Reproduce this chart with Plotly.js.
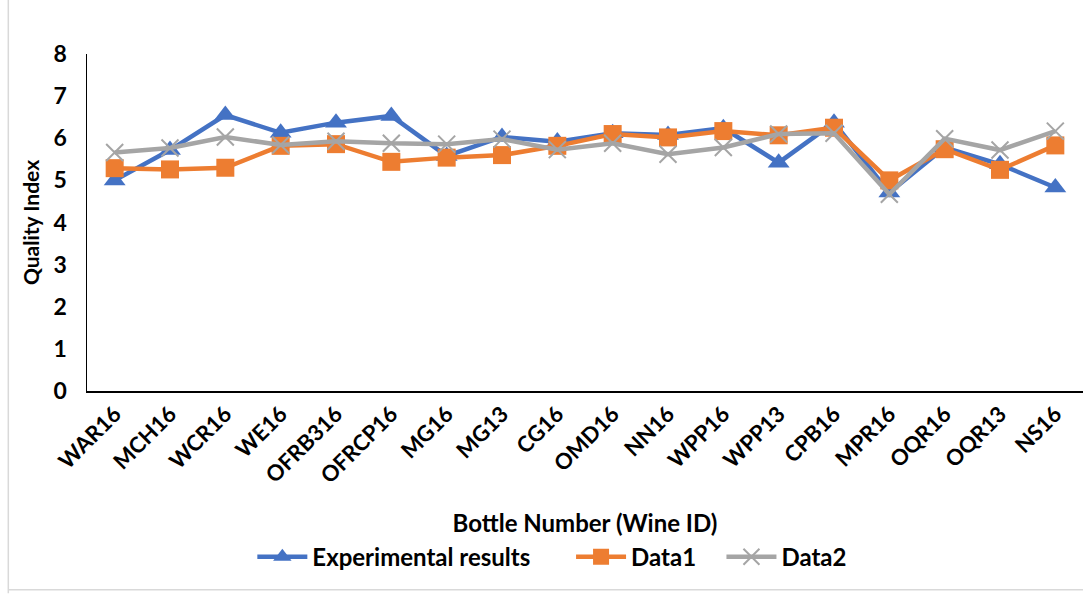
<!DOCTYPE html>
<html>
<head>
<meta charset="utf-8">
<script src="https://cdn.plot.ly/plotly-3.0.1.min.js"></script>
<style>
html,body{margin:0;padding:0;background:#fff;}
#chart{width:1085px;height:594px;}
</style>
</head>
<body>
<div id="chart"></div>
<script>
const categories = ["WAR16","MCH16","WCR16","WE16","OFRB316","OFRCP16","MG16","MG13","CG16","OMD16","NN16","WPP16","WPP13","CPB16","MPR16","OQR16","OQR13","NS16"];
const experimental = [5.0, 5.72, 6.55, 6.13, 6.37, 6.53, 5.58, 6.03, 5.92, 6.12, 6.08, 6.24, 5.42, 6.37, 4.71, 5.78, 5.38, 4.83];
const data1 = [5.29, 5.26, 5.30, 5.82, 5.86, 5.44, 5.54, 5.60, 5.82, 6.10, 6.02, 6.17, 6.07, 6.25, 5.0, 5.74, 5.25, 5.83];
const data2 = [5.66, 5.77, 6.03, 5.84, 5.93, 5.88, 5.86, 5.98, 5.73, 5.88, 5.62, 5.78, 6.10, 6.12, 4.67, 5.99, 5.72, 6.17];
const yTicks = [0,1,2,3,4,5,6,7,8];

const FONT = "Lato, 'Open Sans', sans-serif";
const legendFont = {family: FONT, size: 24, color: "#000", weight: "bold"};

const traces = [
  {x: categories, y: experimental, name: "Experimental results", type: "scatter", mode: "lines+markers", legend: "legend",
   line: {color: "#4472C4", width: 4.5}, marker: {symbol: "triangle-up", size: 19, color: "#4472C4"}},
  {x: categories, y: data1, name: "Data1", type: "scatter", mode: "lines+markers", legend: "legend2",
   line: {color: "#ED7D31", width: 4.5}, marker: {symbol: "square", size: 18, color: "#ED7D31"}},
  {x: categories, y: data2, name: "Data2", type: "scatter", mode: "lines+markers", legend: "legend3",
   line: {color: "#A5A5A5", width: 4.5}, marker: {symbol: "x-thin", size: 17, color: "#A5A5A5", line: {color: "#A5A5A5", width: 2}}}
];

function leg(x) {
  return {orientation: "h", x: x, xanchor: "left", y: -0.493, yanchor: "middle", font: legendFont, itemwidth: 50};
}

const layout = {
  width: 1085, height: 594,
  margin: {l: 87, r: 2, t: 54, b: 203},
  paper_bgcolor: "#fff", plot_bgcolor: "#fff",
  font: {family: FONT, color: "#000", size: 17},
  showlegend: true,
  legend: leg(0.166),
  legend2: leg(0.486),
  legend3: leg(0.637),
  xaxis: {
    type: "category", range: [-0.5, 17.5], showgrid: false, zeroline: false,
    showline: true, linecolor: "#000", linewidth: 1.5, ticks: "",
    tickangle: -45, tickfont: {family: FONT, size: 22, weight: "bold", color: "#000"},
    title: {text: "Bottle Number (Wine ID)", font: {family: FONT, size: 24, weight: "bold", color: "#000"}, standoff: 28}
  },
  yaxis: {
    range: [0, 8], tickvals: yTicks, showgrid: false, zeroline: false,
    showline: true, linecolor: "#000", linewidth: 1.5, ticks: "",
    ticklabelstandoff: 14,
    tickfont: {family: FONT, size: 23, weight: "bold", color: "#000"},
    title: {text: "Quality Index", font: {family: FONT, size: 21, weight: "bold", color: "#000"}, standoff: 8}
  },
  shapes: [
    {type: "line", xref: "paper", yref: "paper", x0: -0.079, x1: -0.079, y0: -0.6, y1: 1.2, line: {color: "#d9d9d9", width: 1.5}},
    {type: "line", xref: "paper", yref: "paper", x0: -0.079, x1: 1.0, y0: -0.59, y1: -0.59, line: {color: "#d9d9d9", width: 1.5}}
  ]
};

Plotly.newPlot("chart", traces, layout, {displayModeBar: false, staticPlot: true});
</script>
</body>
</html>
